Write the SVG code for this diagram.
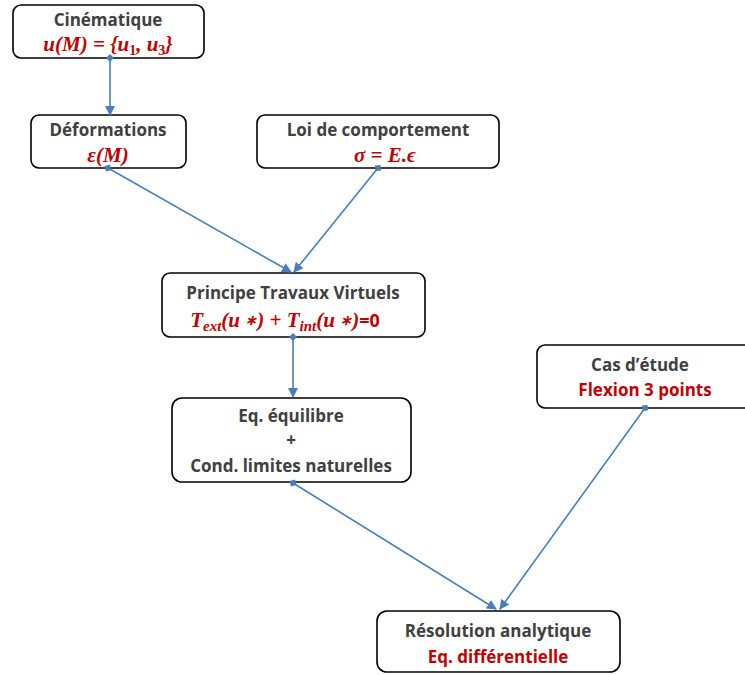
<svg xmlns="http://www.w3.org/2000/svg" width="745" height="675" viewBox="0 0 745 675">
<style>
.box{fill:#fff;stroke:#000;stroke-width:1.6}
.t{font-family:"Open Sans","Liberation Sans",sans-serif;font-weight:bold;font-size:17px;fill:#404040;text-anchor:middle}
.r{fill:#C00000}
.m{font-family:"Liberation Serif",serif;font-weight:bold;font-style:italic;font-size:21px;fill:#C00000;text-anchor:middle}
.s{font-size:14px;font-style:normal}
.c{stroke:#4A7EBB;stroke-width:1.6;fill:none;marker-end:url(#ah);marker-start:url(#dm)}
</style>
<defs>
<marker id="ah" viewBox="0 0 10 10" refX="9" refY="5" markerWidth="10" markerHeight="10" markerUnits="userSpaceOnUse" orient="auto"><path d="M0,0 L10,5 L0,10 z" fill="#4A7EBB"/></marker>
<marker id="dm" viewBox="0 0 8 8" refX="4" refY="4" markerWidth="8" markerHeight="8" markerUnits="userSpaceOnUse" orient="auto"><path d="M4,0 L8,4 L4,8 L0,4 z" fill="#4A7EBB"/></marker>
</defs>
<g id="n1"><rect class="box" x="13" y="5" width="191" height="53" rx="8"/>
<text class="t" x="108" y="26">Cinématique</text>
<text class="m" x="108" y="51">u(M) = {u<tspan class="s" dy="4">1</tspan><tspan dy="-4">, u</tspan><tspan class="s" dy="4">3</tspan><tspan dy="-4">}</tspan></text></g>
<g id="n2"><rect class="box" x="31" y="115" width="155" height="53" rx="8"/>
<text class="t" x="108" y="136">Déformations</text>
<text class="m" x="108" y="162">ε(M)</text></g>
<g id="n3"><rect class="box" x="257" y="115" width="242" height="53" rx="8"/>
<text class="t" x="378" y="136">Loi de comportement</text>
<text class="m" x="385" y="162">σ = E.ϵ</text></g>
<g id="n4"><rect class="box" x="162" y="273" width="263" height="64" rx="8"/>
<text class="t" x="293" y="299">Principe Travaux Virtuels</text>
<text class="m" x="285" y="327">T<tspan font-size="15" dy="4">ext</tspan><tspan dy="-4">(u </tspan><tspan font-size="14" dy="-2">∗</tspan><tspan dy="2">) + T</tspan><tspan font-size="15" dy="4">int</tspan><tspan dy="-4">(u </tspan><tspan font-size="14" dy="-2">∗</tspan><tspan dy="2">)</tspan><tspan font-family="Open Sans,Liberation Sans,sans-serif" font-style="normal" font-size="18">=0</tspan></text></g>
<g id="n5"><rect class="box" x="172" y="398" width="239" height="84" rx="10"/>
<text class="t" x="291" y="422">Eq. équilibre</text>
<text class="t" x="291" y="446">+</text>
<text class="t" x="291" y="472">Cond. limites naturelles</text></g>
<g id="n6"><rect class="box" x="537" y="345" width="215" height="63" rx="8"/>
<text class="t" x="640" y="371">Cas d’étude</text>
<text class="t r" x="645" y="396">Flexion 3 points</text></g>
<g id="n7"><rect class="box" x="377" y="611" width="243" height="61" rx="10"/>
<text class="t" x="498" y="637">Résolution analytique</text>
<text class="t r" x="498" y="663">Eq. différentielle</text></g>
<g id="connectors">
<path class="c" d="M110,58 L110,115"/>
<path class="c" d="M108,168 L291,272"/>
<path class="c" d="M378,168 L294,272"/>
<path class="c" d="M293,337 L293,397"/>
<path class="c" d="M293,483 L496,609"/>
<path class="c" d="M645,408 L500,609"/>
</g>
</svg>
